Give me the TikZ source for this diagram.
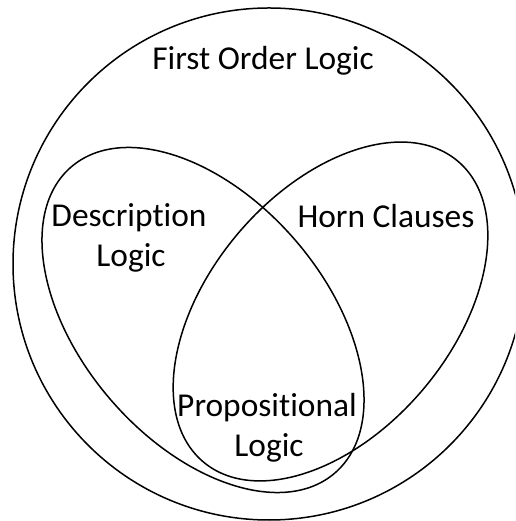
\documentclass[tikz,border=0pt]{standalone}
\usepackage{fontspec}
\setmainfont{Carlito}[Ligatures=NoCommon]
\begin{document}
\begin{tikzpicture}[x=1pt,y=1pt,
  shapeline/.style={draw=black,line width=1.5pt},
  lbl/.style={anchor=base,inner sep=0pt,font=\fontsize{33.4}{40}\selectfont}]
\useasboundingbox (0,0) rectangle (515,521);
\clip (0,0) rectangle (515,521);
\draw[shapeline] (269,257) circle (256);
\draw[shapeline] (203,201) ellipse [x radius=202, y radius=122, rotate=-49.25];
\draw[shapeline] (330.5,209.5) ellipse [x radius=197, y radius=121, rotate=49.7];
\node[lbl] (fol) at (263,451) {First Order Logic};
\node[lbl] (dl1) at (129,294) {Description};
\node[lbl] (dl2) at (131,254) {Logic};
\node[lbl] (hc) at (386,293) {Horn Clauses};
\node[lbl] (pl1) at (267,104) {Propositional};
\node[lbl] (pl2) at (269,64) {Logic};
\end{tikzpicture}
\end{document}
